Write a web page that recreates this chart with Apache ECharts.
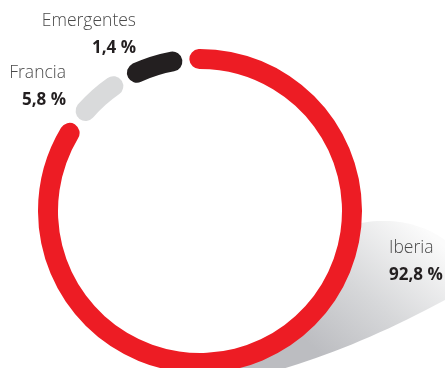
<!DOCTYPE html>
<html>
<head>
<meta charset="utf-8">
<script src="https://cdn.jsdelivr.net/npm/echarts@6/dist/echarts.min.js"></script>
<style>
  html, body { margin: 0; padding: 0; background: #ffffff; }
  #chart { width: 445px; height: 368px; }
</style>
</head>
<body>
<div id="chart"></div>
<script>
// Revenue split by market
const regions = ['Iberia', 'Francia', 'Emergentes'];
const shares = [92.8, 5.8, 1.4];
const shareLabels = ['92,8 %', '5,8 %', '1,4 %'];
const colors = ['#ED1C24', '#D9DADB', '#231F20'];

// Where each label block sits (x, top y, alignment)
const labelSpots = [
  { x: 389, y: 235, align: 'left' },
  { x: 66, y: 60, align: 'right' },
  { x: 136, y: 8, align: 'right' }
];

const cx = 200, cy = 211;

// Outline of the soft cast shadow: two quadratic curves on the outside,
// closed along the middle of the ring band so the ring hides the seam.
function quad(p0, c, p1, n) {
  const pts = [];
  for (let i = 0; i <= n; i++) {
    const t = i / n, u = 1 - t;
    pts.push([u * u * p0[0] + 2 * u * t * c[0] + t * t * p1[0],
              u * u * p0[1] + 2 * u * t * c[1] + t * t * p1[1]]);
  }
  return pts;
}
function shadowOutline() {
  const r = 152;
  const startA = Math.asin((225 - cy) / r);
  const pts = [];
  pts.push(...quad([cx + r * Math.cos(startA), 225], [405, 212], [445, 240], 24));
  pts.push([445, 300]);
  pts.push(...quad([445, 300], [330, 362], [230, 382], 24));
  // back along the ring, from the bottom up to the start
  for (let a = Math.PI / 2; a >= startA; a -= 0.02) {
    pts.push([cx + r * Math.cos(a), cy + r * Math.sin(a)]);
  }
  return pts;
}

const chart = echarts.init(document.getElementById('chart'), null, { renderer: 'canvas' });

chart.setOption({
  animation: false,
  backgroundColor: '#ffffff',
  graphic: [{
    type: 'polygon',
    z: -10,
    silent: true,
    shape: { points: shadowOutline() },
    style: {
      fill: {
        type: 'linear', x: 330, y: 362, x2: 435, y2: 238, global: true,
        colorStops: [
          { offset: 0, color: '#bcbdc1' },
          { offset: 0.45, color: '#d6d7d9' },
          { offset: 1, color: '#fbfbfb' }
        ]
      }
    }
  }],
  series: [{
    type: 'pie',
    center: [cx, cy],
    radius: [142, 162],
    startAngle: 95.35,
    clockwise: true,
    padAngle: 2.7,
    minAngle: 21.6,
    avoidLabelOverlap: false,
    itemStyle: { borderRadius: 10 },
    emphasis: { disabled: true },
    labelLine: { show: false },
    label: {
      show: true,
      position: 'outside',
      formatter: p => '{n|' + p.name + '}\n{v|' + shareLabels[p.dataIndex] + '}',
      rich: {
        n: { fontFamily: 'Open Sans', fontWeight: 300, fontSize: 17.5, color: '#4a4a4a', lineHeight: 27 },
        v: { fontFamily: 'Open Sans', fontWeight: 'bold', fontSize: 17, color: '#231F20', lineHeight: 27 }
      }
    },
    labelLayout: p => {
      const s = labelSpots[p.dataIndex];
      return { x: s.x, y: s.y, align: s.align, verticalAlign: 'top', hideOverlap: false };
    },
    data: regions.map((r, i) => ({ name: r, value: shares[i], itemStyle: { color: colors[i] } }))
  }]
});
</script>
</body>
</html>
